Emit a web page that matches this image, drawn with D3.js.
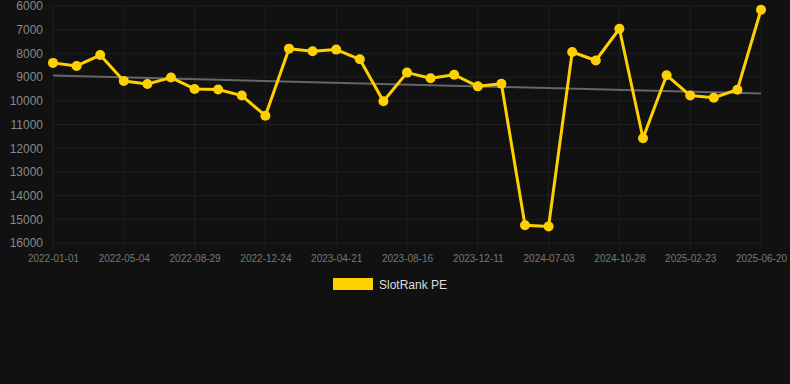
<!DOCTYPE html>
<html><head><meta charset="utf-8">
<script src="https://cdn.jsdelivr.net/npm/d3@7"></script>
<style>html,body{margin:0;padding:0;background:#111111;}svg{display:block;}</style>
</head><body>
<svg id="c" width="790" height="384"></svg>
<script>
const categories = [
 "2022-01-01","2022-02-11","2022-03-24","2022-05-04","2022-06-12","2022-07-21",
 "2022-08-29","2022-10-07","2022-11-15","2022-12-24","2023-02-01","2023-03-12",
 "2023-04-21","2023-05-30","2023-07-08","2023-08-16","2023-09-24","2023-11-02",
 "2023-12-11","2024-02-19","2024-04-27","2024-07-03","2024-08-11","2024-09-19",
 "2024-10-28","2024-12-06","2025-01-14","2025-02-23","2025-04-03","2025-05-12",
 "2025-06-20"];
const slotRankPE = [
 8400,8530,8070,9160,9290,9020,
 9500,9520,9780,10630,7800,7910,
 7840,8250,10020,8810,9050,8900,
 9390,9280,15250,15300,7940,8300,
 6960,11580,8920,9780,9870,9530,
 6160];
const yTicks = [6000,7000,8000,9000,10000,11000,12000,13000,14000,15000,16000];
const seriesName = "SlotRank PE";

const svg = d3.select("#c");
const L = 53, R = 761, T = 6, B = 243;
const x = d3.scalePoint().domain(categories).range([L, R]);
const y = d3.scaleLinear().domain([6000, 16000]).range([T, B]);

// horizontal grid
svg.append("g").selectAll("line").data(yTicks).join("line")
  .attr("x1", L).attr("x2", R).attr("y1", d => y(d)).attr("y2", d => y(d))
  .attr("stroke", "#1f1f1f").attr("stroke-width", 1);
// vertical grid at shown ticks
const shown = categories.filter((d, i) => i % 3 === 0);
svg.append("g").selectAll("line").data(shown).join("line")
  .attr("x1", d => x(d)).attr("x2", d => x(d)).attr("y1", T).attr("y2", B + 7)
  .attr("stroke", "#1f1f1f").attr("stroke-width", 1);

// y axis labels
const ya = svg.append("g").attr("transform", `translate(${L},0)`)
  .call(d3.axisLeft(y).tickValues(yTicks).tickSize(0).tickPadding(10).tickFormat(d3.format("d")));
ya.select(".domain").remove();
ya.selectAll("text").attr("fill", "#888888").attr("font-size", 12)
  .attr("font-family", "Arial, 'Liberation Sans', sans-serif");

// x axis labels
const xa = svg.append("g").attr("transform", `translate(0,${B})`)
  .call(d3.axisBottom(x).tickValues(shown).tickSize(0).tickPadding(12));
xa.select(".domain").remove();
xa.selectAll("text").attr("fill", "#777777").attr("font-size", 10)
  .attr("font-family", "Arial, 'Liberation Sans', sans-serif");

// trend line (least squares)
const n = slotRankPE.length;
const idx = d3.range(n);
const mx = d3.mean(idx), my = d3.mean(slotRankPE);
const slope = d3.sum(idx, i => (i - mx) * (slotRankPE[i] - my)) / d3.sum(idx, i => (i - mx) ** 2);
const icpt = my - slope * mx;
svg.append("line")
  .attr("x1", x(categories[0])).attr("y1", y(icpt))
  .attr("x2", x(categories[n - 1])).attr("y2", y(icpt + slope * (n - 1)))
  .attr("stroke", "#666666").attr("stroke-width", 2);

// series line
const line = d3.line().x((d, i) => x(categories[i])).y(d => y(d));
svg.append("path").datum(slotRankPE).attr("d", line)
  .attr("fill", "none").attr("stroke", "#FFD000").attr("stroke-width", 3)
  .attr("stroke-linejoin", "round");
svg.append("g").selectAll("circle").data(slotRankPE).join("circle")
  .attr("cx", (d, i) => x(categories[i])).attr("cy", d => y(d)).attr("r", 5)
  .attr("fill", "#FFD000");

// legend
const lg = svg.append("g");
lg.append("rect").attr("x", 333).attr("y", 278).attr("width", 40).attr("height", 12).attr("fill", "#FFD000");
lg.append("text").attr("x", 379).attr("y", 288.5).text(seriesName)
  .attr("fill", "#DDDDDD").attr("font-size", 12)
  .attr("font-family", "Arial, 'Liberation Sans', sans-serif");
</script>
</body></html>
